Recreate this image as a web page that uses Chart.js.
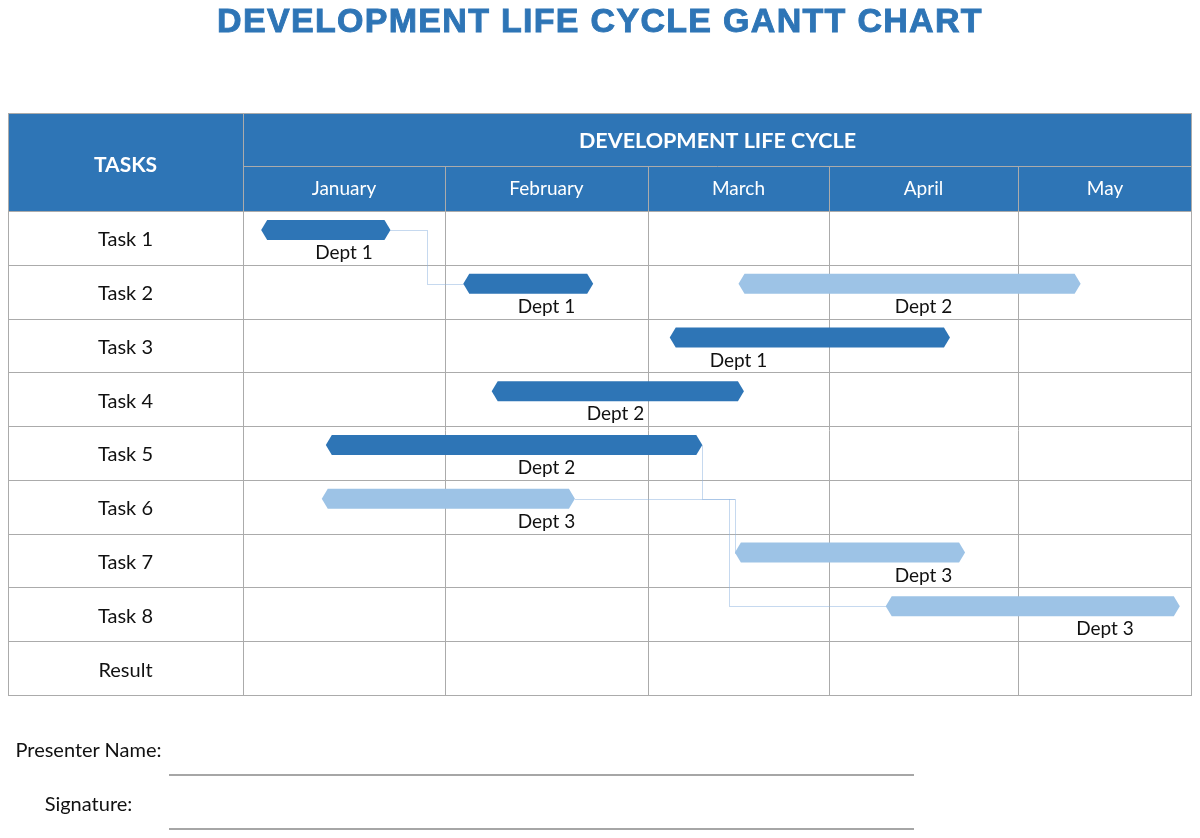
<!DOCTYPE html>
<html lang="en">
<head>
  <meta charset="UTF-8">
  <title>Development Life Cycle Gantt Chart</title>
  <style>
    body {
      margin: 0;
      background: #fff;
      font-family: Lato, sans-serif;
      color: #111;
    }

    .page {
      position: relative;
      width: 1200px;
      height: 838px;
      overflow: hidden;
    }

    .chart-box {
      position: absolute;
      left: 0;
      top: 0;
      width: 1200px;
      height: 838px;
    }

    h1 {
      position: absolute;
      top: 0;
      left: 0;
      width: 1200px;
      margin: 0;
      text-align: center;
      font: bold 34px 'Liberation Sans', Arial, sans-serif;
      line-height: 40px;
      letter-spacing: 1.3px;
      color: #2e75b6;
      -webkit-text-stroke: 0.9px #2e75b6;
    }

    /* sign-off lines under the table */
    .sign {
      position: absolute;
      left: 0;
      width: 177px;
      text-align: center;
      font-size: 20px;
      line-height: 24px;
    }

    .line {
      position: absolute;
      left: 169px;
      width: 745px;
      border-top: 2px solid #a6a6a6;
    }
  </style>
  <script src="https://cdn.jsdelivr.net/npm/chart.js"></script>
</head>
<body>
  <div class="page">
    <div class="chart-box"><canvas id="gantt"></canvas></div>
    <h1>DEVELOPMENT LIFE CYCLE GANTT CHART</h1>
    <div class="sign" style="top:737px">Presenter Name:</div>
    <div class="line" style="top:774px"></div>
    <div class="sign" style="top:791px">Signature:</div>
    <div class="line" style="top:828px"></div>
  </div>

  <script>
    const tasks = ['Task 1', 'Task 2', 'Task 3', 'Task 4', 'Task 5', 'Task 6', 'Task 7', 'Task 8', 'Result'];
    const months = ['January', 'February', 'March', 'April', 'May'];

    // bar spans in months (0 = start of January, 5 = end of May)
    const darkSpans = [[0.09, 0.73], [1.09, 1.73], [2.12, 3.64], [1.23, 2.53], [0.41, 2.30], null, null, null, null];
    const lightSpans = [null, [2.50, 4.36], null, null, null, [0.39, 1.64], [2.48, 3.72], [3.30, 4.93], null];

    // department captions under the bars
    const deptTask = [0, 1, 1, 2, 3, 4, 5, 6, 7];
    const deptText = ['Dept 1', 'Dept 1', 'Dept 2', 'Dept 1', 'Dept 2', 'Dept 2', 'Dept 3', 'Dept 3', 'Dept 3'];
    const deptAt = [0.5, 1.5, 3.5, 2.5, 1.84, 1.5, 1.5, 3.5, 4.5];

    // dependency links, waypoints as [month, task row]
    const links = [
      [[0.73, 0], [0.91, 0], [0.91, 1], [1.09, 1]],
      [[2.30, 4], [2.30, 5], [2.48, 5], [2.48, 6]],
      [[1.64, 5], [2.48, 5]],
      [[2.45, 5], [2.45, 7], [3.30, 7]]
    ];

    // layout
    const monthWidths = [202, 203, 181, 189, 174];
    const darkBlue = '#2e75b6';
    const lightBlue = '#9dc3e6';
    const gridColor = '#ababab';
    const barLift = 8;
    const captionDrop = 15;
    const headerSplit = 53;

    // months are not equally wide in the table, so map values piecewise
    class MonthScale extends Chart.LinearScale {
      getPixelForValue(value) {
        const total = monthWidths.reduce((a, b) => a + b, 0);
        const i = Math.max(0, Math.min(monthWidths.length - 1, Math.floor(value)));
        let acc = 0;
        for (let k = 0; k < i; k++) acc += monthWidths[k];
        acc += (value - i) * monthWidths[i];
        return this.left + acc / total * this.width;
      }
    }
    MonthScale.id = 'month';
    MonthScale.defaults = Chart.LinearScale.defaults;
    Chart.register(MonthScale);

    const crisp = v => Math.round(v) + 0.5;

    function hexPath(ctx, x0, x1, yc, h, tip) {
      ctx.beginPath();
      ctx.moveTo(x0, yc);
      ctx.lineTo(x0 + tip, yc - h / 2);
      ctx.lineTo(x1 - tip, yc - h / 2);
      ctx.lineTo(x1, yc);
      ctx.lineTo(x1 - tip, yc + h / 2);
      ctx.lineTo(x0 + tip, yc + h / 2);
      ctx.closePath();
    }

    const tablePlugin = {
      id: 'table',
      beforeDraw(chart) {
        const { ctx, chartArea: a, scales: { x, y } } = chart;
        ctx.save();
        ctx.fillStyle = darkBlue;
        ctx.fillRect(y.left, x.top, a.right - y.left, a.top - x.top);
        ctx.fillStyle = '#fff';
        ctx.font = 'bold 21px Lato';
        ctx.textAlign = 'center';
        ctx.textBaseline = 'middle';
        ctx.fillText('TASKS', (y.left + y.right) / 2, (x.top + a.top) / 2 + 3);
        ctx.restore();
      },
      beforeDatasetsDraw(chart) {
        const { ctx, chartArea: a, scales: { x, y } } = chart;
        ctx.save();
        ctx.strokeStyle = gridColor;
        ctx.lineWidth = 1;
        ctx.beginPath();
        // rows
        for (let i = 0; i < tasks.length - 1; i++) {
          const py = crisp((y.getPixelForValue(i) + y.getPixelForValue(i + 1)) / 2);
          ctx.moveTo(y.left, py);
          ctx.lineTo(a.right, py);
        }
        ctx.moveTo(y.left, crisp(a.top));
        ctx.lineTo(a.right, crisp(a.top));
        // header split
        ctx.moveTo(a.left, crisp(x.top + headerSplit));
        ctx.lineTo(a.right, crisp(x.top + headerSplit));
        // month columns
        for (let k = 1; k < months.length; k++) {
          const px = crisp(x.getPixelForValue(k));
          ctx.moveTo(px, x.top + headerSplit);
          ctx.lineTo(px, a.bottom);
        }
        ctx.moveTo(crisp(a.left), x.top);
        ctx.lineTo(crisp(a.left), a.bottom);
        ctx.stroke();
        ctx.strokeRect(crisp(y.left), crisp(x.top), Math.round(a.right - y.left) - 1, Math.round(a.bottom - x.top));

        // dependency links
        ctx.strokeStyle = '#8db3df';
        ctx.setLineDash([1, 1]);
        links.forEach(path => {
          ctx.beginPath();
          path.forEach(([m, t], k) => {
            const px = crisp(x.getPixelForValue(m));
            const py = crisp(y.getPixelForValue(t) - barLift);
            k ? ctx.lineTo(px, py) : ctx.moveTo(px, py);
          });
          ctx.stroke();
        });
        ctx.restore();
      },
      beforeDatasetDraw() {
        return false;
      },
      afterDatasetsDraw(chart) {
        const { ctx, scales: { x, y } } = chart;
        ctx.save();
        chart.data.datasets.forEach((ds, d) => {
          const meta = chart.getDatasetMeta(d);
          ds.data.forEach((v, i) => {
            if (!v) return;
            const el = meta.data[i];
            const { x: ex, base, y: ey, height } = el.getProps(['x', 'base', 'y', 'height'], true);
            ctx.fillStyle = ds.backgroundColor;
            hexPath(ctx, Math.min(ex, base), Math.max(ex, base), ey - barLift, height, 6);
            ctx.fill();
          });
        });
        ctx.fillStyle = '#111';
        ctx.font = '19px Lato';
        ctx.textAlign = 'center';
        ctx.textBaseline = 'middle';
        deptText.forEach((t, i) => {
          ctx.fillText(t, x.getPixelForValue(deptAt[i]), y.getPixelForValue(deptTask[i]) + captionDrop);
        });
        ctx.restore();
      }
    };

    new Chart(document.getElementById('gantt'), {
      type: 'bar',
      data: {
        labels: tasks,
        datasets: [
          { label: 'Dark', data: darkSpans, backgroundColor: darkBlue, barThickness: 20, grouped: false },
          { label: 'Light', data: lightSpans, backgroundColor: lightBlue, barThickness: 20, grouped: false }
        ]
      },
      options: {
        indexAxis: 'y',
        responsive: true,
        maintainAspectRatio: false,
        animation: false,
        events: [],
        layout: { padding: { left: 8, top: 113, right: 8, bottom: 143 } },
        plugins: { legend: { display: false }, tooltip: { enabled: false } },
        scales: {
          x: {
            type: 'month',
            position: 'top',
            min: 0,
            max: 5,
            afterFit: s => { s.height = 98; },
            afterBuildTicks: s => { s.ticks = months.map((m, i) => ({ value: i + 0.5 })); },
            grid: { display: false, drawTicks: false },
            border: { display: false },
            ticks: {
              autoSkip: false,
              maxRotation: 0,
              padding: 11,
              color: '#fff',
              font: { family: 'Lato', size: 19 },
              callback: (v, i) => months[i]
            },
            title: {
              display: true,
              text: 'DEVELOPMENT LIFE CYCLE',
              color: '#fff',
              font: { family: 'Lato', size: 21.5, weight: 'bold' },
              padding: { top: 15, bottom: 0 }
            }
          },
          y: {
            afterFit: s => { s.width = 235; },
            grid: { display: false, drawTicks: false },
            border: { display: false },
            ticks: {
              crossAlign: 'center',
              padding: 90,
              labelOffset: 2,
              color: '#111',
              font: { family: 'Lato', size: 20 }
            }
          }
        }
      },
      plugins: [tablePlugin]
    });
  </script>
</body>
</html>
